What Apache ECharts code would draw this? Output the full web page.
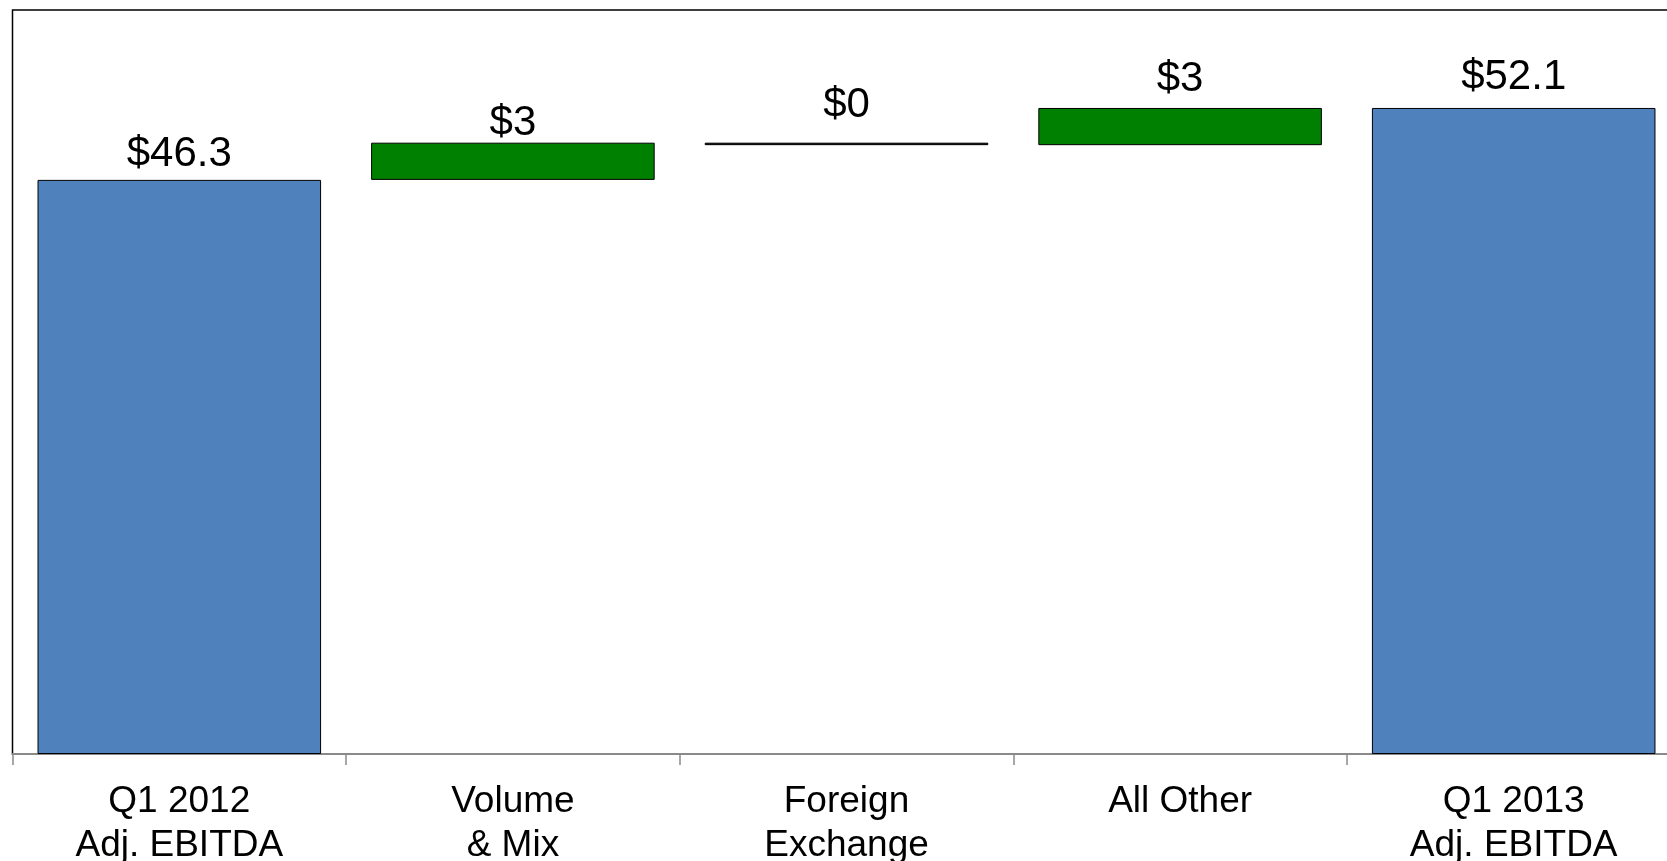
<!DOCTYPE html>
<html>
<head>
<meta charset="utf-8">
<script src="https://cdn.jsdelivr.net/npm/echarts@6/dist/echarts.min.js"></script>
<style>
html,body{margin:0;padding:0;background:#fff;}
#chart{width:1667px;height:861px;}
</style>
</head>
<body>
<div id="chart"></div>
<script>
// Data
const categories = ['Q1 2012\nAdj. EBITDA', 'Volume\n& Mix', 'Foreign\nExchange', 'All Other', 'Q1 2013\nAdj. EBITDA'];
const kinds = ['total', 'delta', 'delta', 'delta', 'total'];
const values = [46.3, 3.0, -0.2, 3.0, 52.1];
const valueLabels = ['$46.3', '$3', '$0', '$3', '$52.1'];

// Build waterfall (base + visible height) from values
const base = [], height = [];
let running = 0;
values.forEach((v, i) => {
  if (kinds[i] === 'total') {
    base.push(0); height.push(v); running = v;
  } else {
    const lo = v >= 0 ? running : running + v;
    base.push(lo); height.push(Math.abs(v)); running += v;
  }
});

// styling
const fills = ['#4F81BD', '#008000', '#000000', '#008000', '#4F81BD'];
const labelGaps = [4, -2, 16, 8, 10];

const chart = echarts.init(document.getElementById('chart'), null, {renderer: 'canvas'});
chart.setOption({
  animation: false,
  backgroundColor: '#ffffff',
  textStyle: {fontFamily: 'Liberation Sans, Arial, sans-serif'},
  grid: {
    left: 12.5, top: 10, width: 1668, height: 744,
    containLabel: false, outerBoundsMode: 'none',
    show: true, borderColor: '#000', borderWidth: 1.5, backgroundColor: 'transparent'
  },
  xAxis: {
    type: 'category',
    data: categories,
    axisLine: {show: true, lineStyle: {color: '#8a8a8a', width: 2}},
    axisTick: {show: true, length: 11, lineStyle: {color: '#8a8a8a', width: 1.5}},
    axisLabel: {
      color: '#000', fontSize: 37, lineHeight: 44, margin: 26,
      fontFamily: 'Liberation Sans, Arial, sans-serif', interval: 0
    }
  },
  yAxis: {
    type: 'value', min: 0, max: 60, show: false, splitLine: {show: false}
  },
  series: [
    {
      type: 'bar', stack: 'w', data: base, barWidth: '85%',
      itemStyle: {color: 'transparent', borderWidth: 0},
      silent: true
    },
    {
      type: 'bar', stack: 'w', barWidth: '85%',
      data: height.map((h, i) => ({
        value: h,
        itemStyle: {color: fills[i], borderColor: '#000', borderWidth: 1},
        label: {distance: labelGaps[i]}
      })),
      label: {
        show: true, position: 'top', color: '#000', fontSize: 42,
        fontFamily: 'Liberation Sans, Arial, sans-serif',
        formatter: p => valueLabels[p.dataIndex]
      }
    }
  ]
});
</script>
</body>
</html>
